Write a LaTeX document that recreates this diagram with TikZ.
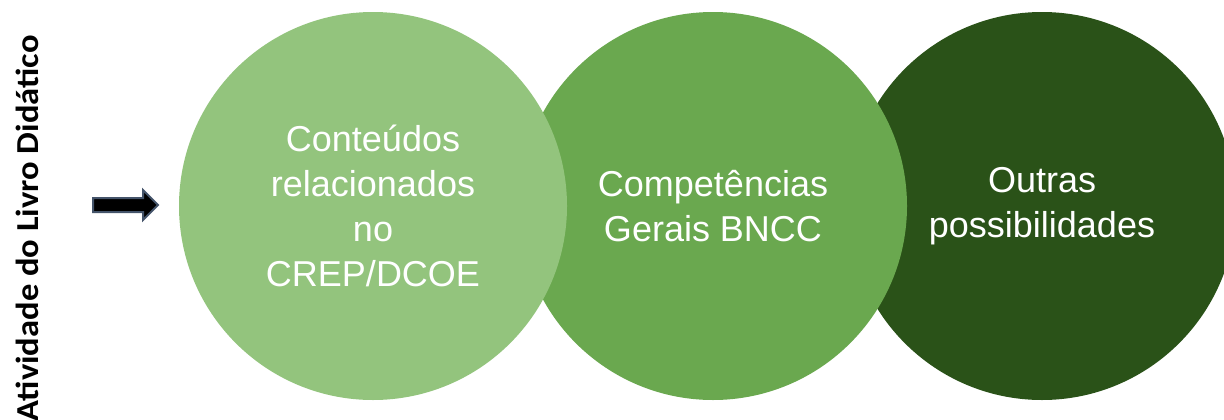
\documentclass[tikz,border=0pt]{standalone}
\usepackage{fontspec}
\setmainfont{Liberation Sans}
\newfontfamily\sidefont{Carlito}
\definecolor{lightleaf}{HTML}{93C47D}
\definecolor{midleaf}{HTML}{6AA84F}
\definecolor{darkleaf}{HTML}{2A5218}
\definecolor{arrowrim}{HTML}{44546A}
\begin{document}
\begin{tikzpicture}[x=0.5pt,y=0.5pt,disc/.style={circle,inner sep=0pt,
  minimum size=194pt,text=white,align=center,font=\fontsize{18}{22.4}\selectfont},
  side/.style={rotate=90,anchor=base east,inner sep=0pt,
  font=\sidefont\bfseries\fontsize{16}{19}\selectfont},
  pointer/.style={draw=arrowrim,fill=black,line width=1pt}]
  \clip (0,0) rectangle (1224,419);
  \node[disc,fill=darkleaf] (outras) at (1042,213) {Outras\\possibilidades};
  \node[disc,fill=midleaf] (bncc) at (713,213) {Competências\\Gerais BNCC};
  \node[disc,fill=lightleaf] (crep) at (373,213)
    {Conteúdos\\relacionados\\no\\CREP/DCOE};

  \node[side] (titulo) at (38,384) {\scalebox{1.08}[1]{Atividade do Livro Didático}};
  \draw[pointer] (93,221) -- (143,221) -- (143,229) -- (158,214) -- (143,199)
    -- (143,207) -- (93,207) -- cycle;
\end{tikzpicture}
\end{document}
